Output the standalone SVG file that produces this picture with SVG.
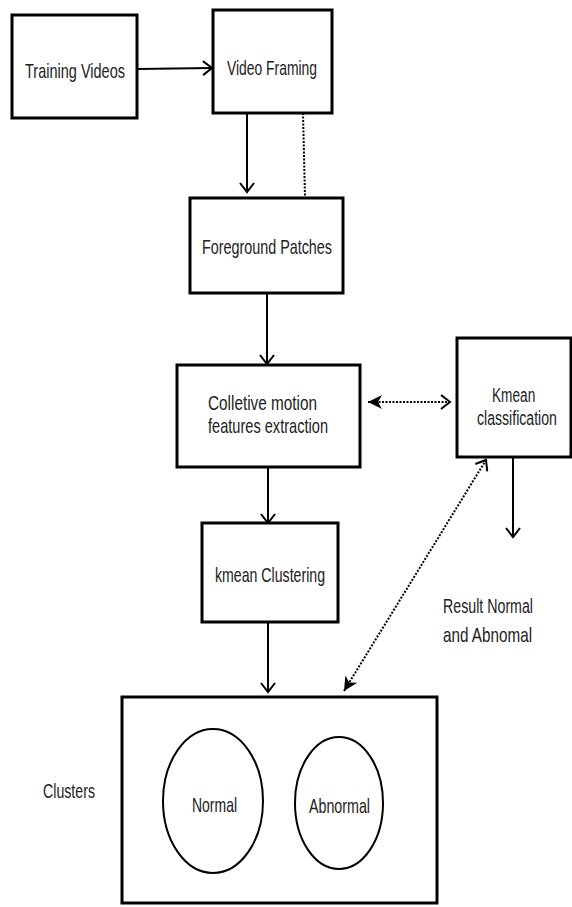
<svg xmlns="http://www.w3.org/2000/svg" width="572" height="907" viewBox="0 0 572 907">
<style>
.box{fill:#fff;stroke:#000;stroke-width:3}
.ell{fill:#fff;stroke:#000;stroke-width:2}
.t{font-family:"Liberation Sans",Arial,sans-serif;font-size:21px;fill:#222}
.c{stroke:#000;stroke-width:2;fill:none}
.d{stroke:#000;stroke-width:2;fill:none;stroke-dasharray:2 1.5}
</style>
<defs>
<marker id="open" markerWidth="12" markerHeight="16" refX="10" refY="8" orient="auto" markerUnits="userSpaceOnUse">
<path d="M1,1 L10,8 L1,15" fill="none" stroke="#000" stroke-width="2"/>
</marker>
<marker id="fill" markerWidth="16" markerHeight="16" refX="14" refY="8" orient="auto-start-reverse" markerUnits="userSpaceOnUse">
<path d="M0,1 L14,8 L0,15 L4,8 Z" fill="#000"/>
</marker>
</defs>
<rect width="572" height="907" fill="#fff"/>
<g id="connectors">
<line class="c" x1="137" y1="69" x2="212" y2="68" marker-end="url(#open)"/>
<line class="c" x1="247" y1="113" x2="247" y2="192" marker-end="url(#open)"/>
<line class="d" x1="303" y1="113" x2="305" y2="197"/>
<line class="c" x1="267" y1="293" x2="267" y2="364" marker-end="url(#open)"/>
<line class="d" x1="368" y1="402" x2="450" y2="402" marker-start="url(#fill)" marker-end="url(#open)"/>
<line class="c" x1="268" y1="467" x2="268" y2="523" marker-end="url(#open)"/>
<line class="c" x1="513" y1="457" x2="513" y2="537" marker-end="url(#open)"/>
<line class="d" x1="344" y1="691" x2="486" y2="460" marker-start="url(#fill)" marker-end="url(#open)"/>
<line class="c" x1="268" y1="622" x2="268" y2="692" marker-end="url(#open)"/>
</g>
<g id="training-videos">
<rect class="box" x="12" y="15" width="125" height="103"/>
<text class="t" x="25" y="78" textLength="100" lengthAdjust="spacingAndGlyphs">Training Videos</text>
</g>
<g id="video-framing">
<rect class="box" x="213" y="10" width="119" height="103"/>
<text class="t" x="227" y="75" textLength="90" lengthAdjust="spacingAndGlyphs">Video Framing</text>
</g>
<g id="foreground-patches">
<rect class="box" x="190" y="198" width="153" height="95"/>
<text class="t" x="202" y="254" textLength="130" lengthAdjust="spacingAndGlyphs">Foreground Patches</text>
</g>
<g id="collective-motion">
<rect class="box" x="177" y="365" width="183" height="102"/>
<text class="t" x="208" y="410" textLength="109" lengthAdjust="spacingAndGlyphs">Colletive motion</text>
<text class="t" x="208" y="433" textLength="120" lengthAdjust="spacingAndGlyphs">features extraction</text>
</g>
<g id="kmean-classification">
<rect class="box" x="457" y="338" width="114" height="119"/>
<text class="t" transform="translate(492,402) scale(0.65,1)">Kmean</text>
<text class="t" transform="translate(477,425) scale(0.672,1)">classification</text>
</g>
<g id="kmean-clustering">
<rect class="box" x="202" y="523" width="136" height="99"/>
<text class="t" x="215" y="582" textLength="110" lengthAdjust="spacingAndGlyphs">kmean Clustering</text>
</g>
<g id="result">
<text class="t" transform="translate(443,613) scale(0.677,1)">Result Normal</text>
<text class="t" transform="translate(443,642) scale(0.727,1)">and Abnomal</text>
</g>
<g id="clusters">
<rect class="box" x="122" y="697" width="315" height="206"/>
<text class="t" x="43" y="798" textLength="52" lengthAdjust="spacingAndGlyphs">Clusters</text>
</g>
<g id="normal">
<ellipse class="ell" cx="213" cy="801" rx="50" ry="72"/>
<text class="t" x="192" y="812" textLength="45" lengthAdjust="spacingAndGlyphs">Normal</text>
</g>
<g id="abnormal">
<ellipse class="ell" cx="339" cy="803" rx="44" ry="66"/>
<text class="t" x="309" y="813" textLength="61" lengthAdjust="spacingAndGlyphs">Abnormal</text>
</g>
</svg>
